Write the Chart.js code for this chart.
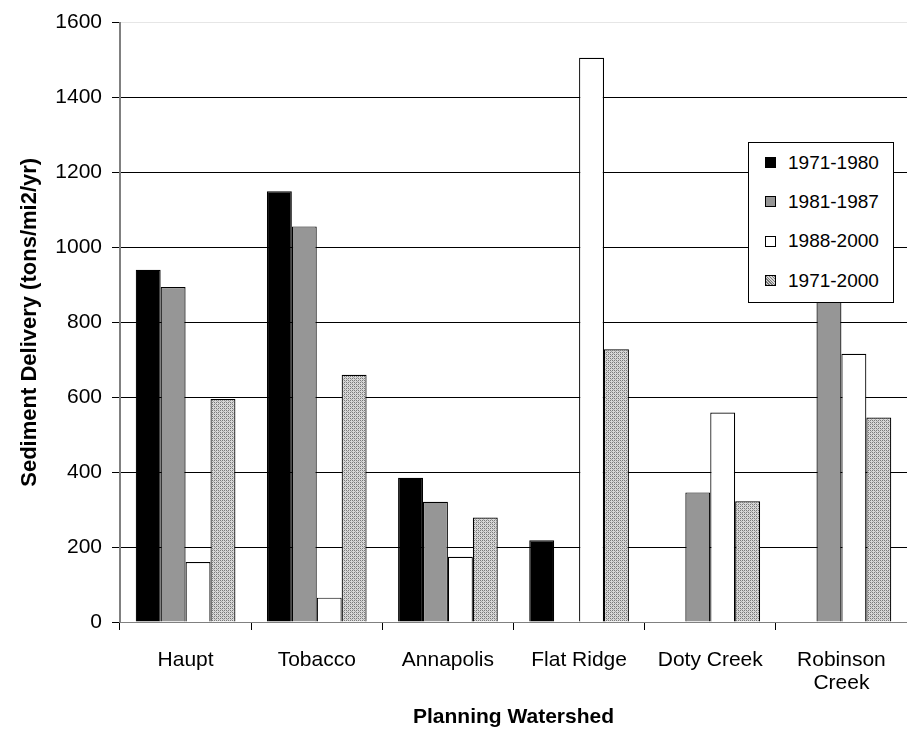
<!DOCTYPE html>
<html>
<head>
<meta charset="utf-8">
<script src="https://cdn.jsdelivr.net/npm/chart.js@4/dist/chart.umd.min.js"></script>
<style>
  html, body { margin: 0; padding: 0; background: #fff; }
  #wrap { position: relative; width: 907px; height: 736px; }
  #legend {
    position: absolute; left: 748px; top: 142px; width: 146px; height: 161px;
    border: 1px solid #000; background: #fff; box-sizing: border-box;
    font-family: "Liberation Sans", Arial, sans-serif; font-size: 19px; color: #000;
    padding-top: 0px;
  }
  #legend .row { height: 39.3px; display: flex; align-items: center; padding-left: 16px; }
  #legend .box { width: 9px; height: 9px; border: 1px solid #000; margin-right: 12px; }
</style>
</head>
<body>
<div id="wrap">
  <canvas id="sedimentChart" width="907" height="736"></canvas>
  <div id="legend"></div>
</div>
<script>
// sediment delivery by planning watershed

const watersheds = ["Haupt", "Tobacco", "Annapolis", "Flat Ridge", "Doty Creek", ["Robinson", "Creek"]];
const periods = ["1971-1980", "1981-1987", "1988-2000", "1971-2000"];

const delivery7180 = [940, 1150, 385, 218, null, null];
const delivery8187 = [894, 1056, 321, null, 346, 1000];
const delivery8800 = [160, 65, 174, 1506, 559, 716];
const delivery7100 = [595, 660, 279, 728, 322, 546];

const yTicks = [0, 200, 400, 600, 800, 1000, 1200, 1400, 1600];

// speckled fill for the 1971-2000 bars
function dotPattern() {
  const c = document.createElement("canvas");
  c.width = 4; c.height = 4;
  const g = c.getContext("2d");
  g.fillStyle = "#d8d8d8";
  g.fillRect(0, 0, 4, 4);
  g.fillStyle = "#7a7a7a";
  g.fillRect(0, 0, 1, 1);
  g.fillRect(2, 2, 1, 1);
  g.fillRect(2, 0, 1, 1);
  g.fillRect(0, 2, 1, 1);
  g.fillStyle = "#a8a8a8";
  g.fillRect(1, 1, 1, 1);
  g.fillRect(3, 3, 1, 1);
  return g.createPattern(c, "repeat");
}
const speckle = dotPattern();

const fills = ["#000000", "#969696", "#ffffff", speckle];
const seriesData = [delivery7180, delivery8187, delivery8800, delivery7100];

const font = "'Liberation Sans', Arial, sans-serif";

new Chart("sedimentChart", {
  type: "bar",
  data: {
    labels: watersheds,
    datasets: periods.map((p, i) => ({
      label: p,
      data: seriesData[i],
      backgroundColor: fills[i],
      borderColor: "#000",
      borderWidth: 1.2,
      barPercentage: 1,
      categoryPercentage: 0.76
    }))
  },
  options: {
    responsive: false,
    animation: false,
    layout: { padding: { top: 20, right: 0, left: 0, bottom: 0 } },
    plugins: { legend: { display: false }, tooltip: { enabled: false } },
    scales: {
      x: {
        grid: { display: true, drawOnChartArea: false, tickLength: 8, color: "#000", offset: true },
        border: { color: "#808080", width: 1 },
        ticks: { color: "#000", font: { family: font, size: 21, lineHeight: 1.1 }, padding: 19, maxRotation: 0, autoSkip: false },
        title: { display: true, text: "Planning Watershed", color: "#000", font: { family: font, size: 21, weight: "bold" }, padding: { top: 0, bottom: 6 } },
        afterFit: s => { s.height = 114; }
      },
      y: {
        min: 0, max: 1600,
        afterBuildTicks: s => { s.ticks = yTicks.map(v => ({ value: v })); },
        grid: {
          color: ctx => (ctx.tick && ctx.tick.value === 1600) ? "#e6e6e6" : "#000",
          tickColor: "#000",
          tickLength: 8,
          lineWidth: 1
        },
        border: { color: "#808080", width: 2 },
        ticks: { color: "#000", font: { family: font, size: 21 }, padding: 10, callback: v => String(v) },
        title: { display: true, text: "Sediment Delivery (tons/mi2/yr)", color: "#000", font: { family: font, size: 22, weight: "bold" }, padding: { top: 17, bottom: 6 } },
        afterFit: s => { s.width = 120; }
      }
    }
  }
});

// legend box drawn over the plot, like the original
const legend = document.getElementById("legend");
periods.forEach((p, i) => {
  const row = document.createElement("div");
  row.className = "row";
  const box = document.createElement("span");
  box.className = "box";
  box.style.background = i === 3 ? "repeating-linear-gradient(45deg,#7a7a7a 0 1px,#d8d8d8 1px 2px)" : fills[i];
  const txt = document.createElement("span");
  txt.textContent = p;
  row.appendChild(box);
  row.appendChild(txt);
  legend.appendChild(row);
});
</script>
</body>
</html>
